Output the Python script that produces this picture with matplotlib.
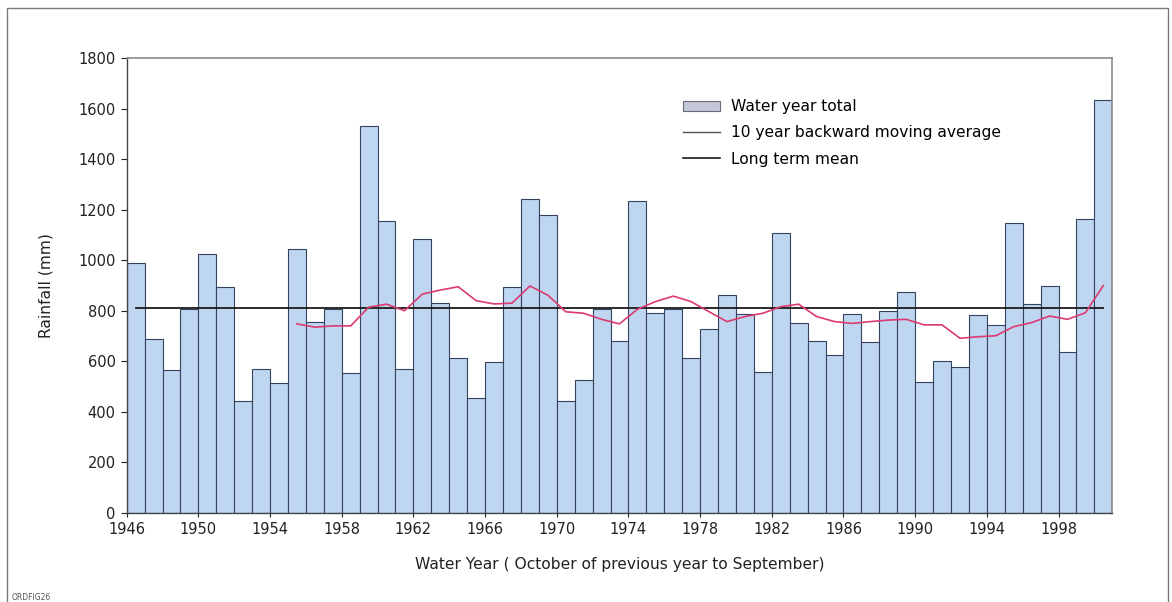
import matplotlib.pyplot as plt
from matplotlib.patches import Patch, Rectangle
from matplotlib.lines import Line2D

# Data (mm)
years = list(range(1946, 2001))
water_year_total = [990, 687, 565, 808, 1024, 894, 442, 571, 513, 1045,
                    755, 807, 552, 1532, 1156, 569, 1084, 830, 614, 453,
                    598, 893, 1243, 1180, 442, 526, 808, 682, 1236, 793,
                    806, 612, 728, 861, 787, 556, 1107, 752, 680, 625,
                    788, 675, 800, 873, 519, 601, 579, 783, 744, 1147,
                    826, 899, 638, 1164, 1635]

ma_years = list(range(1955, 2001))
moving_average = [748, 735, 740, 740, 814, 826, 800, 866, 882, 895,
                  840, 827, 830, 898, 862, 796, 790, 766, 748, 806,
                  836, 858, 836, 796, 757, 777, 790, 816, 826, 777,
                  757, 750, 757, 763, 766, 744, 744, 691, 697, 701,
                  737, 753, 779, 766, 792, 900]

long_term_mean = 810
xtick_years = list(range(1946, 1999, 4))

plt.rcParams['font.family'] = ['DejaVu Sans']

fig = plt.figure(figsize=(11.72, 6.02), dpi=100)
W, H = 1172, 602

# bingkai halaman
fig.patches.append(Rectangle((7 / W, -0.1), 1161 / W, 1.1 - 8 / H,
                             transform=fig.transFigure, fill=False,
                             edgecolor='#7a7a7a', linewidth=1.0))

ax = fig.add_axes([126.7 / W, 1 - 512.7 / H, 985.6 / W, 454.4 / H])

# batang total tahunan
ax.bar(years, water_year_total, width=1.0, align='edge',
       color='#bfd6f1', edgecolor='#34425f', linewidth=0.8, zorder=2)

# garis rata-rata jangka panjang
ax.plot([years[0] + 0.5, years[-1] + 0.5], [long_term_mean, long_term_mean],
        color='#1a1a1a', linewidth=1.3, zorder=3)

# rata-rata bergerak 10 tahun
ax.plot([y + 0.5 for y in ma_years], moving_average,
        color='#dc3a70', linewidth=1.2, zorder=4)

ax.set_xlim(1946, 2001)
ax.set_ylim(0, 1800)
ax.set_yticks(range(0, 1801, 200))
ax.set_xticks(xtick_years)
ax.tick_params(axis='y', length=4, width=0.8, pad=4, labelsize=10.5, colors='#222222')
ax.tick_params(axis='x', length=3, width=0.8, pad=4, labelsize=10.5, colors='#222222')

for side in ['top', 'right']:
    ax.spines[side].set_color('#8a8a8a')
    ax.spines[side].set_linewidth(1.2)
for side in ['left', 'bottom']:
    ax.spines[side].set_color('#444444')
    ax.spines[side].set_linewidth(1.0)

ax.set_ylabel('Rainfall (mm)', fontsize=11.2, color='#222222')
ax.yaxis.set_label_coords(-0.074, 0.5)
ax.set_xlabel('Water Year ( October of previous year to September)',
              fontsize=11.2, color='#222222')
ax.xaxis.set_label_coords(0.5, -0.097)

# legenda
handles = [Patch(facecolor='#c3c8d8', edgecolor='#6a6a7a', linewidth=0.8),
           Line2D([], [], color='#555555', linewidth=1.0),
           Line2D([], [], color='#1a1a1a', linewidth=1.2)]
labels = ['Water year total', '10 year backward moving average', 'Long term mean']
ax.legend(handles, labels, loc='upper left', bbox_to_anchor=(0.564, 0.91),
          frameon=False, fontsize=11.2, borderpad=0, borderaxespad=0,
          handlelength=2.4, handleheight=0.65, handletextpad=0.7,
          labelspacing=0.72)

fig.text(12 / W, 1 - 597 / H, 'ORDFIG26', fontsize=5.5, color='#555555',
         va='center', ha='left')

plt.savefig('out.png', dpi=100)
